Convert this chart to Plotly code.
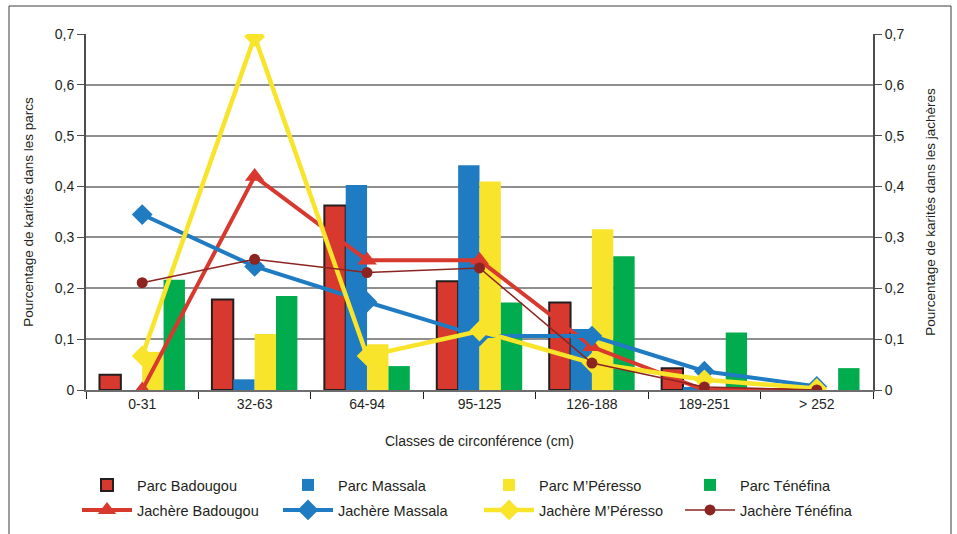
import plotly.graph_objects as go

# Circumference classes (cm)
classes = ["0-31", "32-63", "64-94", "95-125", "126-188", "189-251", "> 252"]

# Share of shea trees in parklands (left axis)
parc_badougou = [0.030, 0.178, 0.363, 0.214, 0.172, 0.043, 0.0]
parc_massala = [0.0, 0.021, 0.403, 0.442, 0.120, 0.006, 0.0]
parc_peresso = [0.075, 0.110, 0.090, 0.410, 0.316, 0.0, 0.0]
parc_tenefina = [0.217, 0.185, 0.047, 0.172, 0.263, 0.113, 0.043]

# Share of shea trees in fallows (right axis)
jach_badougou = [0.0, 0.420, 0.255, 0.255, 0.085, 0.0, 0.0]
jach_massala = [0.345, 0.243, 0.173, 0.106, 0.106, 0.037, 0.007]
jach_peresso = [0.067, 0.695, 0.067, 0.116, 0.053, 0.020, 0.003]
jach_tenefina = [0.211, 0.257, 0.231, 0.240, 0.053, 0.006, 0.0]

tick_vals = [0, 0.1, 0.2, 0.3, 0.4, 0.5, 0.6, 0.7]
tick_text = ["0", "0,1", "0,2", "0,3", "0,4", "0,5", "0,6", "0,7"]

RED = "#D8392E"
BLUE = "#1F7BC2"
YELLOW = "#F9E42C"
GREEN = "#00AC4E"
BROWN = "#8C2422"
INK = "#231F20"
FONT = "Liberation Sans, Arial, sans-serif"

fig = go.Figure()

fig.add_trace(go.Bar(x=classes, y=parc_badougou, name="Parc Badougou",
                     marker=dict(color=RED, line=dict(color=INK, width=2)),
                     legend="legend"))
fig.add_trace(go.Bar(x=classes, y=parc_massala, name="Parc Massala",
                     marker=dict(color=BLUE, line=dict(width=0)), legend="legend"))
fig.add_trace(go.Bar(x=classes, y=parc_peresso, name="Parc M\u2019Péresso",
                     marker=dict(color=YELLOW, line=dict(width=0)), legend="legend"))
fig.add_trace(go.Bar(x=classes, y=parc_tenefina, name="Parc Ténéfina",
                     marker=dict(color=GREEN, line=dict(width=0)), legend="legend"))

fig.add_trace(go.Scatter(x=classes, y=jach_badougou, name="Jachère Badougou",
                         mode="lines+markers", yaxis="y2", legend="legend2",
                         line=dict(color=RED, width=4),
                         marker=dict(symbol="triangle-up", size=17, color=RED)))
fig.add_trace(go.Scatter(x=classes, y=jach_massala, name="Jachère Massala",
                         mode="lines+markers", yaxis="y2", legend="legend2",
                         line=dict(color=BLUE, width=4),
                         marker=dict(symbol="diamond", size=16, color=BLUE)))
fig.add_trace(go.Scatter(x=classes, y=jach_peresso, name="Jachère M\u2019Péresso",
                         mode="lines+markers", yaxis="y2", legend="legend2",
                         line=dict(color=YELLOW, width=4.5),
                         marker=dict(symbol="diamond", size=16, color=YELLOW)))
fig.add_trace(go.Scatter(x=classes, y=jach_tenefina, name="Jachère Ténéfina",
                         mode="lines+markers", yaxis="y2", legend="legend2",
                         line=dict(color=BROWN, width=1.5),
                         marker=dict(symbol="circle", size=11, color=BROWN)))

W, H = 957, 534
L, R, T, B = 86, 84, 34, 144
pw, ph = W - L - R, H - T - B


def px_x(p):
    return (p - L) / pw


def px_y(p):
    return (H - B - p) / ph


tick_font = dict(family=FONT, size=14, color=INK)
ytitle_font = dict(family=FONT, size=13.5, color=INK)
xtitle_font = dict(family=FONT, size=14, color=INK)

legend_common = dict(
    orientation="h", xanchor="left", yanchor="middle",
    font=dict(family=FONT, size=14.5, color=INK),
    itemwidth=50, entrywidth=136, entrywidthmode="pixels",
    bgcolor="rgba(0,0,0,0)", tracegroupgap=0,
)

fig.update_layout(
    width=W, height=H,
    margin=dict(l=L, r=R, t=T, b=B, autoexpand=False),
    paper_bgcolor="white", plot_bgcolor="white",
    font=dict(family=FONT, size=14, color=INK),
    barmode="group", bargap=0.24, bargroupgap=0,
    xaxis=dict(
        showline=True, linecolor="#6d6d6d", linewidth=1.5,
        ticks="outside", tickson="boundaries", ticklen=7, tickcolor=INK,
        tickwidth=1, tickfont=tick_font, automargin=False,
        title=dict(text="Classes de circonférence (cm)", font=xtitle_font, standoff=26),
    ),
    yaxis=dict(
        range=[0, 0.7], tickvals=tick_vals, ticktext=tick_text,
        showgrid=True, gridcolor="#8f8f8f", gridwidth=1.5,
        showline=True, linecolor="#4d4d4d", linewidth=2,
        ticks="outside", ticklen=7, tickcolor="#4d4d4d", tickfont=tick_font,
        zeroline=False, automargin=False,
        title=dict(text="Pourcentage de karités dans les parcs", font=ytitle_font, standoff=18),
    ),
    yaxis2=dict(
        overlaying="y", side="right",
        range=[0, 0.7], tickvals=tick_vals, ticktext=tick_text,
        showgrid=False, zeroline=False, automargin=False,
        showline=True, linecolor="#4d4d4d", linewidth=2,
        ticks="outside", ticklen=7, tickcolor="#4d4d4d", tickfont=tick_font,
        title=dict(text="Pourcentage de karités dans les jachères", font=ytitle_font, standoff=22),
    ),
    legend=dict(x=px_x(77), y=px_y(485), **legend_common),
    legend2=dict(x=px_x(77), y=px_y(510), **legend_common),
    shapes=[
        dict(type="rect", xref="paper", yref="paper",
             x0=px_x(9), x1=px_x(951), y0=px_y(545), y1=px_y(6),
             line=dict(color="#3a3a3a", width=1), fillcolor="rgba(0,0,0,0)",
             layer="below"),
    ],
)

fig.write_html("out.html")
